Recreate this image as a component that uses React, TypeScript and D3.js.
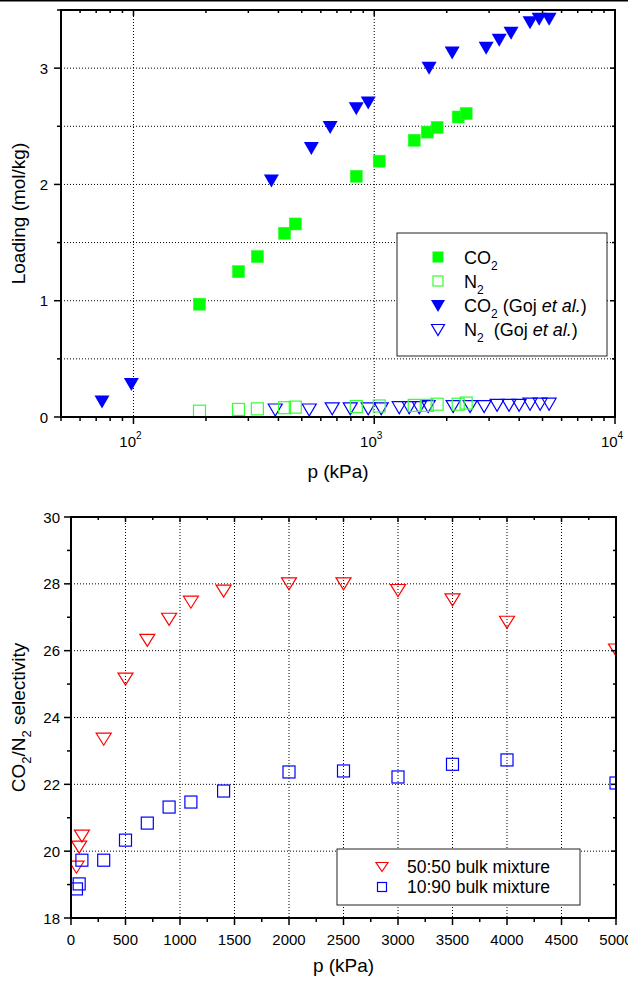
import React from 'react';
import * as d3 from 'd3';

const W = 628;
const H = 982;
const FONT = '"Liberation Sans", Arial, Helvetica, sans-serif';

// top panel: loading vs pressure (kPa), log axis
const co2Pressure = [188, 273, 327, 424, 470, 842, 1049, 1466, 1660, 1825, 2232, 2409];
const co2Loading = [0.97, 1.25, 1.38, 1.58, 1.66, 2.07, 2.2, 2.38, 2.45, 2.49, 2.58, 2.61];
const n2Pressure = [188, 273, 327, 424, 470, 842, 1049, 1466, 1660, 1825, 2232, 2409];
const n2Loading = [0.05, 0.065, 0.07, 0.08, 0.085, 0.09, 0.095, 0.1, 0.1, 0.11, 0.11, 0.12];
const gojCo2Pressure = [74, 98, 374, 548, 656, 842, 944, 1690, 2107, 2916, 3304, 3700, 4437, 4842, 5325];
const gojCo2Loading = [0.13, 0.28, 2.03, 2.31, 2.49, 2.65, 2.7, 3.0, 3.13, 3.17, 3.24, 3.3, 3.39, 3.42, 3.42];
const gojN2Pressure = [388, 537, 669, 795, 944, 1069, 1270, 1397, 1538, 1675, 2127, 2502, 2860, 3237, 3630, 3997, 4437, 4887, 5325];
const gojN2Loading = [0.06, 0.06, 0.07, 0.07, 0.07, 0.07, 0.08, 0.08, 0.08, 0.09, 0.09, 0.09, 0.09, 0.1, 0.1, 0.1, 0.11, 0.11, 0.11];
const topYTicks = [0, 1, 2, 3];
const topXMajor = [100, 1000, 10000];
const topXExp = ['2', '3', '4'];

// bottom panel: selectivity vs pressure
const mixPressure = [50, 75, 100, 300, 500, 700, 900, 1100, 1400, 2000, 2500, 3000, 3500, 4000, 5000];
const sel5050 = [19.52, 20.12, 20.45, 23.35, 25.15, 26.31, 26.94, 27.45, 27.78, 28.0, 28.0, 27.8, 27.52, 26.85, 26.02];
const sel1090 = [18.87, 19.02, 19.73, 19.73, 20.33, 20.84, 21.32, 21.47, 21.8, 22.37, 22.4, 22.22, 22.6, 22.73, 22.04];
const botXTicks = [0, 500, 1000, 1500, 2000, 2500, 3000, 3500, 4000, 4500, 5000];
const botYTicks = [18, 20, 22, 24, 26, 28, 30];

const tri = (w: number, h: number) => `M${-w / 2},${-h / 2}L${w / 2},${-h / 2}L0,${h / 2}Z`;

const T = { left: 61, right: 615, top: 10, bottom: 417 };
const B = { left: 71, right: 616, top: 517, bottom: 918 };

function TopChart() {
  const x = d3.scaleLog().domain([50, 10000]).range([T.left, T.right]);
  const y = d3.scaleLinear().domain([0, 3.5]).range([T.bottom, T.top]);
  const minorX = x.ticks().filter((v) => !topXMajor.includes(v));
  const minorY = d3.range(0.5, 3.6, 1);
  const gridY = d3.range(0.5, 3.4, 0.5);
  const pts = (px: number[], py: number[]) => px.map((p, i) => [x(p), y(py[i])]);

  return (
    <g>
      <defs>
        <clipPath id="clipTop">
          <rect x={T.left} y={T.top} width={T.right - T.left} height={T.bottom - T.top} />
        </clipPath>
      </defs>
      {gridY.map((v) => (
        <line key={'gy' + v} x1={T.left} x2={T.right} y1={y(v)} y2={y(v)} stroke="#000" strokeWidth={1} strokeDasharray="1,2" />
      ))}
      {topXMajor.slice(0, 2).map((v) => (
        <line key={'gx' + v} x1={x(v)} x2={x(v)} y1={T.top} y2={T.bottom} stroke="#000" strokeWidth={1} strokeDasharray="1,2" />
      ))}
      <g clipPath="url(#clipTop)">
        {pts(gojN2Pressure, gojN2Loading).map(([cx, cy], i) => (
          <path key={'gn' + i} d={tri(14, 12)} transform={`translate(${cx},${cy})`} fill="none" stroke="#0000ff" strokeWidth={1.2} />
        ))}
        {pts(gojCo2Pressure, gojCo2Loading).map(([cx, cy], i) => (
          <path key={'gc' + i} d={tri(15, 13)} transform={`translate(${cx},${cy})`} fill="#0000ff" />
        ))}
        {pts(n2Pressure, n2Loading).map(([cx, cy], i) => (
          <rect key={'n' + i} x={cx - 6} y={cy - 6} width={12} height={12} fill="none" stroke="#33ff33" strokeWidth={1.2} />
        ))}
        {pts(co2Pressure, co2Loading).map(([cx, cy], i) => (
          <rect key={'c' + i} x={cx - 6} y={cy - 6} width={12} height={12} fill="#00ff00" stroke="#33ff33" strokeWidth={0.6} />
        ))}
      </g>
      {/* frame */}
      <rect x={T.left} y={T.top} width={T.right - T.left} height={T.bottom - T.top} fill="none" stroke="#000" strokeWidth={2} />
      {/* x ticks */}
      {topXMajor.map((v) => (
        <g key={'xm' + v}>
          <line x1={x(v)} x2={x(v)} y1={T.bottom} y2={T.bottom + 7} stroke="#000" strokeWidth={1.5} />
          <line x1={x(v)} x2={x(v)} y1={T.top} y2={T.top + 6} stroke="#000" strokeWidth={1.5} />
        </g>
      ))}
      {minorX.map((v) => (
        <g key={'xn' + v}>
          <line x1={x(v)} x2={x(v)} y1={T.bottom} y2={T.bottom + 4} stroke="#000" strokeWidth={1.5} />
          <line x1={x(v)} x2={x(v)} y1={T.top} y2={T.top + 3} stroke="#000" strokeWidth={1.5} />
        </g>
      ))}
      {topXMajor.map((v, i) => (
        <text key={'xl' + v} x={x(v) - 3} y={447} fontSize={15} textAnchor="middle" fontFamily={FONT}>
          10<tspan dy={-8} fontSize={10}>{topXExp[i]}</tspan>
        </text>
      ))}
      {/* y ticks */}
      {topYTicks.map((v) => (
        <g key={'ym' + v}>
          <line x1={T.left - 7} x2={T.left} y1={y(v)} y2={y(v)} stroke="#000" strokeWidth={1.5} />
          <line x1={T.right - 5} x2={T.right} y1={y(v)} y2={y(v)} stroke="#000" strokeWidth={1.5} />
          <text x={48} y={y(v) + 5.5} fontSize={15} textAnchor="end" fontFamily={FONT}>{v}</text>
        </g>
      ))}
      {minorY.map((v) => (
        <g key={'yn' + v}>
          <line x1={T.left - 4} x2={T.left} y1={y(v)} y2={y(v)} stroke="#000" strokeWidth={1.5} />
          <line x1={T.right - 3} x2={T.right} y1={y(v)} y2={y(v)} stroke="#000" strokeWidth={1.5} />
        </g>
      ))}
      <text x={(T.left + T.right) / 2} y={478} fontSize={19} textAnchor="middle" fontFamily={FONT}>p (kPa)</text>
      <text transform={`translate(25,${(T.top + T.bottom) / 2}) rotate(-90)`} fontSize={19} textAnchor="middle" fontFamily={FONT}>
        Loading (mol/kg)
      </text>
      {/* legend */}
      <rect x={397} y={233} width={210} height={123} fill="#fff" stroke="#222" strokeWidth={1} />
      <rect x={432.5} y={251.5} width={11} height={11} fill="#00ff00" />
      <rect x={433} y={276} width={10} height={10} fill="none" stroke="#33ff33" strokeWidth={1.2} />
      <path d={tri(14, 12)} transform="translate(438,306)" fill="#0000ff" />
      <path d={tri(13, 11)} transform="translate(438,330)" fill="none" stroke="#0000ff" strokeWidth={1.2} />
      <g fontFamily={FONT} fontSize={18}>
        <text x={464} y={264}>CO<tspan dy={6} fontSize={12}>2</tspan></text>
        <text x={464} y={288}>N<tspan dy={6} fontSize={12}>2</tspan></text>
        <text x={464} y={312}>
          CO<tspan dy={6} fontSize={12}>2</tspan><tspan dy={-6}> (Goj </tspan><tspan fontStyle="italic">et al.</tspan>)
        </text>
        <text x={464} y={336}>
          N<tspan dy={6} fontSize={12}>2</tspan><tspan dy={-6} dx={5}> (Goj </tspan><tspan fontStyle="italic">et al.</tspan>)
        </text>
      </g>
    </g>
  );
}

function BottomChart() {
  const x = d3.scaleLinear().domain([0, 5000]).range([B.left, B.right]);
  const y = d3.scaleLinear().domain([18, 30]).range([B.bottom, B.top]);
  const minorX = d3.range(250, 5000, 500);
  const minorY = d3.range(19, 30, 2);

  return (
    <g>
      <defs>
        <clipPath id="clipBot">
          <rect x={B.left} y={B.top} width={B.right - B.left} height={B.bottom - B.top} />
        </clipPath>
      </defs>
      {botYTicks.slice(1, -1).map((v) => (
        <line key={'gy' + v} x1={B.left} x2={B.right} y1={y(v)} y2={y(v)} stroke="#000" strokeWidth={1} strokeDasharray="1,2" />
      ))}
      {botXTicks.slice(1, -1).map((v) => (
        <line key={'gx' + v} x1={x(v)} x2={x(v)} y1={B.top} y2={B.bottom} stroke="#000" strokeWidth={1} strokeDasharray="1,2" />
      ))}
      <g clipPath="url(#clipBot)">
        {mixPressure.map((p, i) => (
          <path key={'r' + i} d={tri(15, 12)} transform={`translate(${x(p)},${y(sel5050[i])})`} fill="none" stroke="#ff0000" strokeWidth={1.2} />
        ))}
        {mixPressure.map((p, i) => (
          <rect key={'b' + i} x={x(p) - 6} y={y(sel1090[i]) - 6} width={12} height={12} fill="none" stroke="#0000ff" strokeWidth={1.2} />
        ))}
      </g>
      <rect x={B.left} y={B.top} width={B.right - B.left} height={B.bottom - B.top} fill="none" stroke="#000" strokeWidth={2} />
      {botXTicks.map((v) => (
        <g key={'xm' + v}>
          <line x1={x(v)} x2={x(v)} y1={B.bottom} y2={B.bottom + 7} stroke="#000" strokeWidth={1.5} />
          <line x1={x(v)} x2={x(v)} y1={B.top} y2={B.top + 5} stroke="#000" strokeWidth={1.5} />
          <text x={x(v)} y={945} fontSize={15} textAnchor="middle" fontFamily={FONT}>{v}</text>
        </g>
      ))}
      {minorX.map((v) => (
        <g key={'xn' + v}>
          <line x1={x(v)} x2={x(v)} y1={B.bottom} y2={B.bottom + 4} stroke="#000" strokeWidth={1.5} />
          <line x1={x(v)} x2={x(v)} y1={B.top} y2={B.top + 3} stroke="#000" strokeWidth={1.5} />
        </g>
      ))}
      {botYTicks.map((v) => (
        <g key={'ym' + v}>
          <line x1={B.left - 7} x2={B.left} y1={y(v)} y2={y(v)} stroke="#000" strokeWidth={1.5} />
          <line x1={B.right - 5} x2={B.right} y1={y(v)} y2={y(v)} stroke="#000" strokeWidth={1.5} />
          <text x={60} y={y(v) + 5.5} fontSize={15} textAnchor="end" fontFamily={FONT}>{v}</text>
        </g>
      ))}
      {minorY.map((v) => (
        <g key={'yn' + v}>
          <line x1={B.left - 4} x2={B.left} y1={y(v)} y2={y(v)} stroke="#000" strokeWidth={1.5} />
          <line x1={B.right - 3} x2={B.right} y1={y(v)} y2={y(v)} stroke="#000" strokeWidth={1.5} />
        </g>
      ))}
      <text x={(B.left + B.right) / 2} y={972} fontSize={19} textAnchor="middle" fontFamily={FONT}>p (kPa)</text>
      <text transform={`translate(25,${(B.top + B.bottom) / 2}) rotate(-90)`} fontSize={19} textAnchor="middle" fontFamily={FONT}>
        CO<tspan dy={6} fontSize={13}>2</tspan><tspan dy={-6}>/N</tspan><tspan dy={6} fontSize={13}>2</tspan><tspan dy={-6}> selectivity</tspan>
      </text>
      {/* legend */}
      <rect x={337} y={849} width={243} height={56} fill="#fff" stroke="#222" strokeWidth={1} />
      <path d={tri(12, 9)} transform="translate(382,867)" fill="none" stroke="#ff0000" strokeWidth={1.2} />
      <rect x={377.5} y={882.5} width={9} height={9} fill="none" stroke="#0000ff" strokeWidth={1.2} />
      <text x={407} y={873} fontSize={17.5} fontFamily={FONT}>50:50 bulk mixture</text>
      <text x={407} y={893} fontSize={17.5} fontFamily={FONT}>10:90 bulk mixture</text>
    </g>
  );
}

export default function App() {
  return (
    <svg width={W} height={H} style={{ position: 'absolute', left: 0, top: 0, background: '#fff' }}>
      <rect x={0} y={0} width={W} height={H} fill="#fff" />
      <rect x={0} y={0} width={W} height={1.5} fill="#000" />
      <TopChart />
      <BottomChart />
    </svg>
  );
}
